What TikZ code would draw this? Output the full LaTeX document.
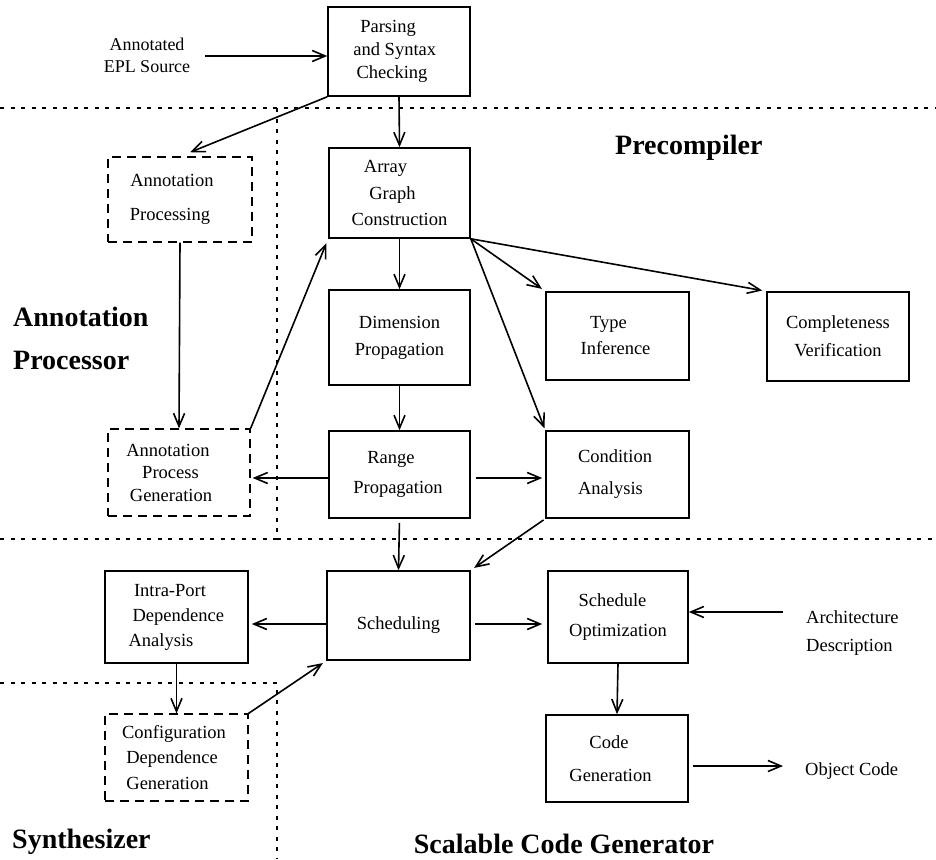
\documentclass[tikz,border=0pt]{standalone}
\usepackage{fontspec}
\setmainfont{Liberation Serif}
\usetikzlibrary{arrows.meta}
\newcommand{\mvline}[2]{\hspace*{#1}#2\hspace*{-#1}}
\begin{document}
\begin{tikzpicture}[x=1pt,y=-1pt,
  txt/.style={font=\fontsize{18.5}{23}\selectfont, align=center, inner sep=0pt},
  box/.style={draw, line width=1.6pt, rectangle, txt},
  dbox/.style={draw, line width=1.3pt, dash pattern=on 9pt off 6pt, rectangle, txt},
  big/.style={font=\fontsize{28}{43}\selectfont\bfseries, inner sep=0pt},
  arr/.style={line width=1.6pt, -{Straight Barb[length=13pt,width=11pt,line width=1.6pt]}},
  sep/.style={line width=2pt, dash pattern=on 4pt off 6.5pt}]
\useasboundingbox (0,0) rectangle (936,859);
% separators
\draw[sep] (0,108) -- (936,108);
\draw[sep] (277,108) -- (277,539) -- (936,539);
\draw[sep] (0,539) -- (277,539);
\draw[sep] (0,683) -- (277,683) -- (277,859);
% boxes
\node[box, minimum width=142pt, minimum height=89pt, font=\fontsize{18.5}{23}\selectfont] (parse) at (399,51.5) {\mvline{-11pt}{Parsing}\\\mvline{-8.5pt}{and Syntax}\\\mvline{-7pt}{Checking}};
\node[box, minimum width=141pt, minimum height=90pt, font=\fontsize{18.5}{26.5}\selectfont] (array) at (399.5,193) {\mvline{-14pt}{Array}\\\mvline{-14pt}{Graph}\\Construction};
\node[box, minimum width=141pt, minimum height=95pt, font=\fontsize{18.5}{27}\selectfont] (dim) at (399.5,337.5) {Dimension\\Propagation};
\node[box, minimum width=143pt, minimum height=88pt, font=\fontsize{18.5}{26}\selectfont] (type) at (617.5,336) {\mvline{-9pt}{Type}\\\mvline{-2pt}{Inference}};
\node[box, minimum width=142pt, minimum height=89pt, font=\fontsize{18.5}{28}\selectfont] (comp) at (838,336.5) {Completeness\\Verification};
\node[box, minimum width=141pt, minimum height=87pt, font=\fontsize{18.5}{30}\selectfont] (range) at (399.5,474.5) {\mvline{-8.5pt}{Range}\\\mvline{-1.5pt}{Propagation}};
\node[box, minimum width=143pt, minimum height=87pt, font=\fontsize{18.5}{32}\selectfont] (cond) at (617.5,474.5) {\mvline{-2.5pt}{Condition}\\\mvline{-7pt}{Analysis}};
\node[dbox, minimum width=144pt, minimum height=85pt, font=\fontsize{18.5}{34}\selectfont] (annproc) at (180,199.5) {\mvline{-8pt}{Annotation}\\\mvline{-10pt}{Processing}};
\node[dbox, minimum width=142pt, minimum height=87pt, font=\fontsize{18.5}{22.5}\selectfont] (apg) at (179,472.5) {\mvline{-11pt}{Annotation}\\\mvline{-17pt}{Process}\\\mvline{-8pt}{Generation}};
\node[box, minimum width=143pt, minimum height=89pt] (sched) at (398.5,615.5) {\raisebox{-8pt}[\height][0pt]{Scheduling}};
\node[box, minimum width=143pt, minimum height=92pt, font=\fontsize{18.5}{25}\selectfont] (intra) at (176.5,617) {\mvline{-6.5pt}{Intra-Port}\\\mvline{3.5pt}{Dependence}\\\mvline{-15.5pt}{Analysis}};
\node[dbox, minimum width=143pt, minimum height=87pt, font=\fontsize{18.5}{25.5}\selectfont] (config) at (176.5,757.5) {\mvline{-2.5pt}{Configuration}\\\mvline{-9pt}{Dependence}\\\mvline{-9pt}{Generation}};
\node[box, minimum width=140pt, minimum height=92pt, font=\fontsize{18.5}{30}\selectfont] (schedopt) at (618,617) {\mvline{-5.5pt}{Schedule}\\Optimization};
\node[box, minimum width=142pt, minimum height=87pt, font=\fontsize{18.5}{33}\selectfont] (codegen) at (617,758.5) {\mvline{-8pt}{Code}\\\mvline{-6.5pt}{Generation}};
% free texts
\node[txt, font=\fontsize{18}{22}\selectfont] (src) at (147,55) {Annotated\\EPL Source};
\node[txt, font=\fontsize{18.5}{28}\selectfont, align=left, anchor=west] (arch) at (806,633) {Architecture\\Description};
\node[txt, anchor=west] (obj) at (805,771) {Object Code};
\node[big, anchor=west] (pre) at (615,148) {Precompiler};
\node[big, align=left, anchor=west] (ap) at (13,338) {Annotation\\Processor};
\node[big, anchor=west] (syn) at (12,842) {Synthesizer};
\node[big] (scg) at (564,844) {Scalable Code Generator};
% coordinates
\coordinate (srcend) at (205,56);
\coordinate (archend) at (783,612);
\coordinate (objstart) at (693,766);
\coordinate (objend) at (783,766);
% connectors
\draw[arr] (srcend) -- (parse.west |- srcend);
\draw[arr] (parse.south) -- (array.north);
\draw[arr, shorten >=11pt] (parse.south west) -- (annproc.north);
\draw[arr] (annproc.south) -- (apg.north);
\draw[arr, shorten >=5pt] (apg.north east) -- (array.south west);
\draw[arr] (array.south) -- (dim.north);
\draw[arr, shorten >=4pt] (array.south east) -- (type.north west);
\draw[arr, shorten >=4pt] (array.south east) -- (comp.north west);
\draw[arr, shorten >=2pt] (array.south east) -- (cond.north west);
\draw[arr] (dim.south) -- (range.north);
\draw[arr, shorten >=2pt] (range.west |- 0,478) -- (apg.east |- 0,478);
\draw[arr, shorten <=5pt, shorten >=3pt] (range.east |- 0,478) -- (cond.west |- 0,478);
\draw[arr, shorten <=4pt] (range.south) -- (sched.north);
\draw[arr, shorten <=2pt, shorten >=4pt] (cond.south west) -- (sched.north east);
\draw[arr, shorten >=3pt] (sched.west |- 0,624) -- (intra.east |- 0,624);
\draw[arr] (intra.south) -- (config.north);
\draw[arr, shorten >=4pt] (config.north east) -- (sched.south west);
\draw[arr, shorten <=4pt, shorten >=5pt] (sched.east |- 0,624) -- (schedopt.west |- 0,624);
\draw[arr] (archend) -- (schedopt.east |- archend);
\draw[arr] (schedopt.south) -- (codegen.north);
\draw[arr] (objstart) -- (objend);
\end{tikzpicture}
\end{document}
